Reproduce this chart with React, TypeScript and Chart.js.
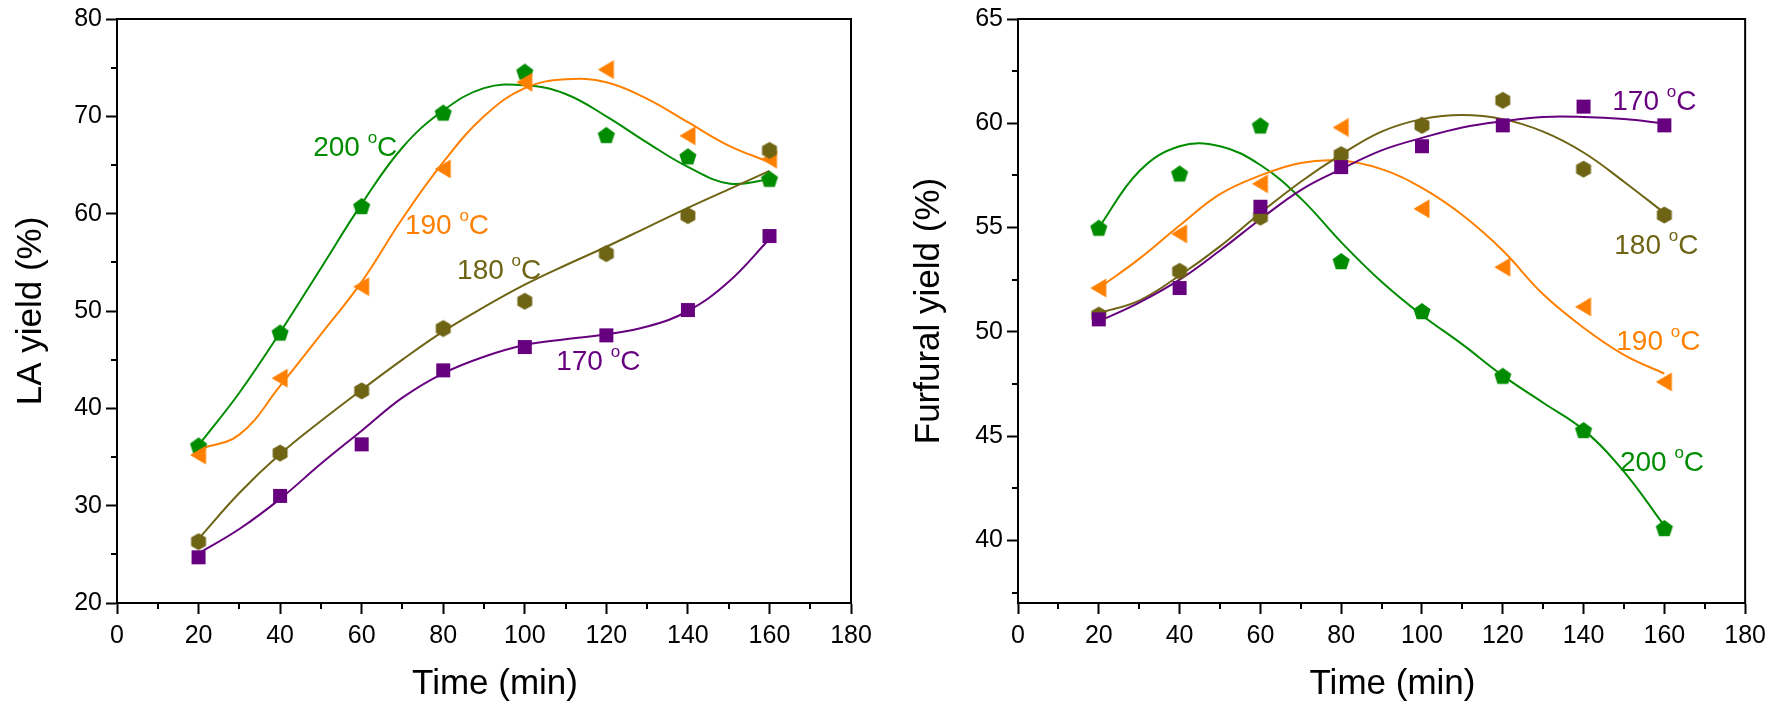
import React, { useEffect, useRef } from 'react';
import { Chart, registerables } from 'chart.js';

Chart.register(...registerables);

const FONT = "'Liberation Sans', Arial, Helvetica, sans-serif";

// ---------- data ----------
const TIME = [20, 40, 60, 80, 100, 120, 140, 160];
const FIT_TIME = [20, 30, 40, 50, 60, 70, 80, 90, 100, 110, 120, 130, 140, 150, 160];

const TEMPS = ['170', '180', '190', '200'];

// LA yield (%) measured points
const LA_170 = [24.7, 31.0, 36.3, 43.9, 46.3, 47.5, 50.1, 57.7];
const LA_180 = [26.3, 35.4, 41.8, 48.2, 51.0, 55.9, 59.8, 66.5];
const LA_190 = [35.2, 43.1, 52.5, 64.6, 73.5, 74.8, 68.0, 65.6];
const LA_200 = [36.2, 47.8, 60.8, 70.4, 74.6, 68.1, 65.9, 63.6];

// LA yield fitted curves
const LA_FIT_170 = [25.1, 27.6, 30.7, 34.3, 37.7, 41.1, 43.6, 45.3, 46.5, 47.1, 47.6, 48.4, 50.0, 53.0, 57.4];
const LA_FIT_180 = [26.6, 31.3, 35.3, 38.7, 41.9, 45.0, 47.9, 50.4, 52.7, 54.7, 56.6, 58.6, 60.6, 62.5, 64.4];
const LA_FIT_190 = [35.8, 37.3, 42.3, 47.6, 53.0, 59.5, 65.3, 70.0, 72.9, 73.8, 73.5, 71.8, 69.4, 67.0, 65.3];
const LA_FIT_200 = [36.2, 41.6, 47.8, 54.4, 61.0, 66.8, 70.6, 72.9, 73.2, 72.3, 70.0, 67.3, 64.8, 63.1, 63.5];

// Furfural yield (%) measured points
const FUR_170 = [50.6, 52.1, 56.0, 57.9, 58.9, 59.9, 60.8, 59.9];
const FUR_180 = [50.8, 52.9, 55.5, 58.5, 59.9, 61.1, 57.8, 55.6];
const FUR_190 = [52.1, 54.7, 57.1, 59.8, 55.9, 53.1, 51.2, 47.6];
const FUR_200 = [55.0, 57.6, 59.9, 53.4, 51.0, 47.9, 45.3, 40.6];

// Furfural yield fitted curves
const FUR_FIT_170 = [50.5, 51.4, 52.5, 53.9, 55.4, 56.8, 57.8, 58.7, 59.3, 59.8, 60.1, 60.3, 60.3, 60.2, 60.0];
const FUR_FIT_180 = [50.9, 51.5, 52.7, 54.1, 55.7, 57.2, 58.5, 59.6, 60.2, 60.4, 60.2, 59.6, 58.6, 57.2, 55.7];
const FUR_FIT_190 = [52.1, 53.5, 55.1, 56.6, 57.5, 58.1, 58.2, 57.8, 56.9, 55.6, 53.9, 51.8, 50.2, 48.9, 48.0];
const FUR_FIT_200 = [55.0, 57.7, 58.9, 58.9, 58.0, 56.4, 54.3, 52.4, 50.8, 49.4, 47.9, 46.6, 45.3, 43.3, 40.7];

// axes
const X_TICKS = [0, 20, 40, 60, 80, 100, 120, 140, 160, 180];
const X_MINOR = [10, 30, 50, 70, 90, 110, 130, 150, 170];
const LA_Y_TICKS = [20, 30, 40, 50, 60, 70, 80];
const LA_Y_MINOR = [25, 35, 45, 55, 65, 75];
const FUR_Y_TICKS = [40, 45, 50, 55, 60, 65];
const FUR_Y_MINOR = [37.5, 42.5, 47.5, 52.5, 57.5, 62.5];
const X_TITLE = 'Time (min)';
const X_TITLE_AT = 92.7;

// label anchors (data coordinates: left edge x, middle y)
const LA_LABEL_X = [107.7, 83.4, 70.6, 48.1];
const LA_LABEL_Y = [44.7, 54.1, 58.7, 66.7];
const FUR_LABEL_X = [147.1, 147.6, 148.1, 149.0];
const FUR_LABEL_Y = [61.0, 54.1, 49.5, 43.7];

const COLORS = ['#66007F', '#6E6414', '#FF8000', '#008C00'];
const SHAPES = ['square', 'hexagon', 'triangleLeft', 'pentagon'];

const TICK_SIZE = 25;
const TITLE_SIZE = 35;
const LABEL_SIZE = 28;

function makeMarker(shape: string, color: string): HTMLCanvasElement {
  const s = 24;
  const c = document.createElement('canvas');
  c.width = s;
  c.height = s;
  const ctx = c.getContext('2d')!;
  ctx.fillStyle = color;
  const cx = s / 2;
  const cy = s / 2;
  ctx.beginPath();
  if (shape === 'square') {
    ctx.rect(cx - 7, cy - 7, 14, 14);
  } else if (shape === 'pentagon') {
    const r = 9;
    for (let i = 0; i < 5; i++) {
      const a = (-90 + 72 * i) * Math.PI / 180;
      const px = cx + r * Math.cos(a);
      const py = cy + 1 + r * Math.sin(a);
      if (i === 0) ctx.moveTo(px, py); else ctx.lineTo(px, py);
    }
    ctx.closePath();
  } else if (shape === 'hexagon') {
    const r = 8.6;
    for (let i = 0; i < 6; i++) {
      const a = (-90 + 60 * i) * Math.PI / 180;
      const px = cx + r * Math.cos(a);
      const py = cy + r * Math.sin(a);
      if (i === 0) ctx.moveTo(px, py); else ctx.lineTo(px, py);
    }
    ctx.closePath();
  } else {
    ctx.moveTo(cx - 8.5, cy);
    ctx.lineTo(cx + 7.5, cy - 9.5);
    ctx.lineTo(cx + 7.5, cy + 9.5);
    ctx.closePath();
  }
  ctx.fill();
  return c;
}

function drawTempLabel(ctx: CanvasRenderingContext2D, x: number, y: number, num: string, color: string) {
  ctx.save();
  ctx.fillStyle = color;
  ctx.textBaseline = 'middle';
  ctx.textAlign = 'left';
  ctx.font = `${LABEL_SIZE}px ${FONT}`;
  const main = num + ' ';
  ctx.fillText(main, x, y);
  let w = ctx.measureText(main).width;
  ctx.font = `${Math.round(LABEL_SIZE * 0.62)}px ${FONT}`;
  ctx.fillText('o', x + w, y - LABEL_SIZE * 0.36);
  w += ctx.measureText('o').width;
  ctx.font = `${LABEL_SIZE}px ${FONT}`;
  ctx.fillText('C', x + w, y);
  ctx.restore();
}

function makeDecorPlugin(yMinor: number[], labelX: number[], labelY: number[]) {
  return {
    id: 'decor',
    afterDraw(chart: any) {
      const { ctx, chartArea } = chart;
      const xs = chart.scales.x;
      const ys = chart.scales.y;
      ctx.save();
      ctx.strokeStyle = '#000';
      ctx.lineWidth = 2;
      // top & right frame
      ctx.beginPath();
      ctx.moveTo(chartArea.left - 1, chartArea.top);
      ctx.lineTo(chartArea.right, chartArea.top);
      ctx.lineTo(chartArea.right, chartArea.bottom + 1);
      ctx.stroke();
      // minor ticks
      ctx.beginPath();
      X_MINOR.forEach((v) => {
        const px = Math.round(xs.getPixelForValue(v));
        ctx.moveTo(px, chartArea.bottom);
        ctx.lineTo(px, chartArea.bottom + 6);
      });
      yMinor.forEach((v) => {
        const py = Math.round(ys.getPixelForValue(v));
        ctx.moveTo(chartArea.left, py);
        ctx.lineTo(chartArea.left - 6, py);
      });
      ctx.stroke();
      // x axis title
      ctx.fillStyle = '#000';
      ctx.font = `${TITLE_SIZE}px ${FONT}`;
      ctx.textAlign = 'center';
      ctx.textBaseline = 'middle';
      ctx.fillText(X_TITLE, xs.getPixelForValue(X_TITLE_AT), 684);
      ctx.restore();
      TEMPS.forEach((t, i) => {
        drawTempLabel(ctx, xs.getPixelForValue(labelX[i]), ys.getPixelForValue(labelY[i]), t, COLORS[i]);
      });
    },
  };
}

function buildConfig(opts: {
  points: number[][];
  fits: number[][];
  yMin: number;
  yMax: number;
  yTicks: number[];
  yMinor: number[];
  yTitle: string;
  yWidth: number;
  yTitlePad: number;
  padRight: number;
  labelX: number[];
  labelY: number[];
}) {
  const markers = TEMPS.map((t, i) => makeMarker(SHAPES[i], COLORS[i]));
  const datasets: any[] = [];
  TEMPS.forEach((t, i) => {
    datasets.push({
      type: 'scatter',
      label: t + ' points',
      data: TIME.map((x, k) => ({ x, y: opts.points[i][k] })),
      pointStyle: markers[i],
      pointRadius: 7,
      showLine: false,
      order: 0,
    });
  });
  TEMPS.forEach((t, i) => {
    datasets.push({
      type: 'line',
      label: t + ' fit',
      data: FIT_TIME.map((x, k) => ({ x, y: opts.fits[i][k] })),
      borderColor: COLORS[i],
      borderWidth: 2,
      pointRadius: 0,
      tension: 0.4,
      fill: false,
      order: 1,
    });
  });
  const tickFont = { family: FONT, size: TICK_SIZE };
  const titleFont = { family: FONT, size: TITLE_SIZE };
  return {
    type: 'scatter',
    data: { datasets },
    options: {
      responsive: false,
      animation: false,
      devicePixelRatio: 1,
      layout: { padding: { left: 0, right: opts.padRight, top: 16, bottom: 0 } },
      plugins: { legend: { display: false }, tooltip: { enabled: false } },
      scales: {
        x: {
          type: 'linear',
          min: 0,
          max: 180,
          afterBuildTicks: (s: any) => { s.ticks = X_TICKS.map((v) => ({ value: v })); },
          afterFit: (s: any) => { s.height = 109; },
          ticks: { font: tickFont, color: '#000', padding: 7, maxRotation: 0, autoSkip: false },
          grid: { drawOnChartArea: false, drawTicks: true, tickLength: 11, tickWidth: 2, tickColor: '#000' },
          border: { display: true, color: '#000', width: 2 },
          title: { display: false },
        },
        y: {
          type: 'linear',
          min: opts.yMin,
          max: opts.yMax,
          afterBuildTicks: (s: any) => { s.ticks = opts.yTicks.map((v) => ({ value: v })); },
          afterFit: (s: any) => { s.width = opts.yWidth; },
          ticks: { font: tickFont, color: '#000', padding: 4, autoSkip: false },
          grid: { drawOnChartArea: false, drawTicks: true, tickLength: 11, tickWidth: 2, tickColor: '#000' },
          border: { display: true, color: '#000', width: 2 },
          title: { display: true, text: opts.yTitle, font: titleFont, color: '#000', padding: { top: opts.yTitlePad, bottom: 0 } },
        },
      },
    },
    plugins: [makeDecorPlugin(opts.yMinor, opts.labelX, opts.labelY)],
  } as any;
}

export default function App() {
  const leftRef = useRef<HTMLCanvasElement>(null);
  const rightRef = useRef<HTMLCanvasElement>(null);

  useEffect(() => {
    const left = new Chart(leftRef.current!, buildConfig({
      points: [LA_170, LA_180, LA_190, LA_200],
      fits: [LA_FIT_170, LA_FIT_180, LA_FIT_190, LA_FIT_200],
      yMin: 20,
      yMax: 80,
      yTicks: LA_Y_TICKS,
      yMinor: LA_Y_MINOR,
      yTitle: 'LA yield (%)',
      yWidth: 117,
      yTitlePad: 10,
      padRight: 29,
      labelX: LA_LABEL_X,
      labelY: LA_LABEL_Y,
    }));
    const right = new Chart(rightRef.current!, buildConfig({
      points: [FUR_170, FUR_180, FUR_190, FUR_200],
      fits: [FUR_FIT_170, FUR_FIT_180, FUR_FIT_190, FUR_FIT_200],
      yMin: 37,
      yMax: 65,
      yTicks: FUR_Y_TICKS,
      yMinor: FUR_Y_MINOR,
      yTitle: 'Furfural yield (%)',
      yWidth: 132,
      yTitlePad: 22,
      padRight: 24,
      labelX: FUR_LABEL_X,
      labelY: FUR_LABEL_Y,
    }));
    return () => {
      left.destroy();
      right.destroy();
    };
  }, []);

  return (
    <div style={{ position: 'absolute', left: 0, top: 0, width: 1773, height: 712, background: '#fff' }}>
      <canvas ref={leftRef} width={880} height={712} style={{ position: 'absolute', left: 0, top: 0 }} />
      <canvas ref={rightRef} width={887} height={712} style={{ position: 'absolute', left: 886, top: 0 }} />
    </div>
  );
}
